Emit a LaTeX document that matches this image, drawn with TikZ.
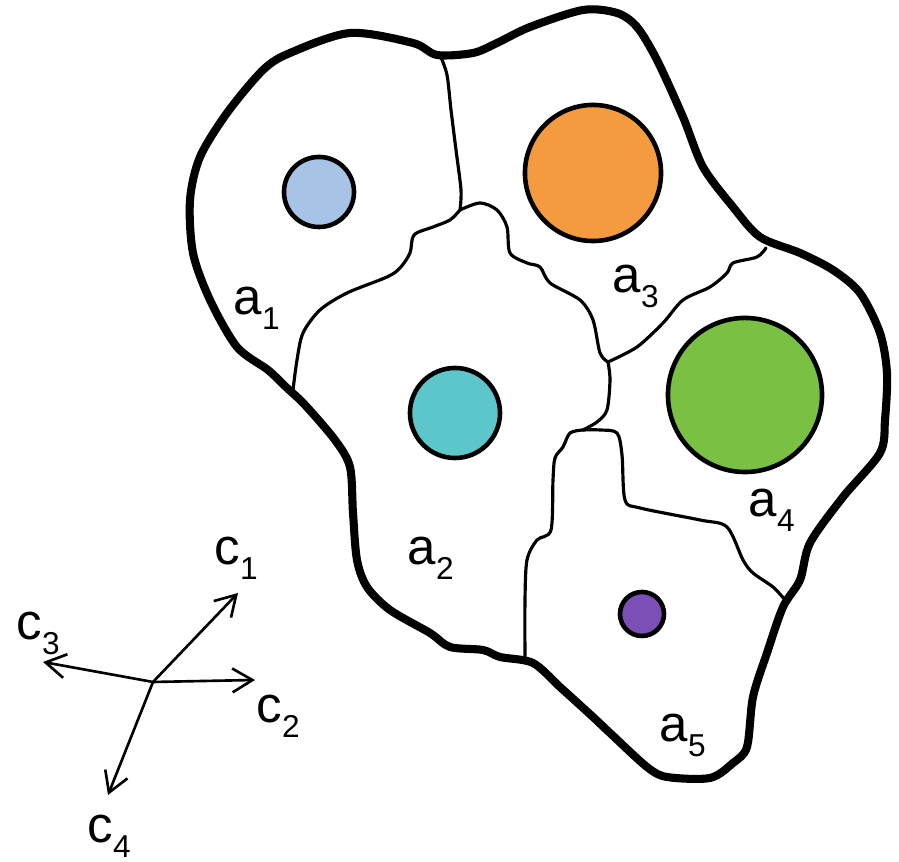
\documentclass[tikz,border=0pt]{standalone}
\usepackage{fontspec}
\setmainfont{Liberation Sans}
\usetikzlibrary{arrows.meta}

% region label: letter with a lowered small index
\newcommand{\reglab}[2]{#1\raisebox{-4pt}{\fontsize{9}{9}\selectfont #2}}

\tikzset{
  outline/.style={line width=2.3pt, line join=round},
  border/.style={line width=0.9pt, line join=round, line cap=round},
  blob/.style={circle, draw=black, line width=1.3pt, inner sep=0pt},
  lbl/.style={anchor=base west, inner sep=0pt, font=\fontsize{14.5}{14.5}\selectfont},
  axis/.style={line width=0.75pt, -{Straight Barb[length=5.7pt,width=6.8pt]}}
}

\definecolor{cblue}{HTML}{A7C3E6}
\definecolor{corange}{HTML}{F59B3F}
\definecolor{ccyan}{HTML}{5CC6CA}
\definecolor{cgreen}{HTML}{7AC143}
\definecolor{cpurple}{HTML}{7B4FB5}

\begin{document}
\begin{tikzpicture}[x=0.01cm, y=-0.01cm]
\useasboundingbox (0,0) rectangle (899,862);

% inner borders between the regions
\draw[border] plot[smooth, tension=0.5] coordinates {(440,55) (447,75) (451,110) (456,150) (461,190) (460,210)};
\draw[border] plot[smooth, tension=0.5] coordinates {(460,210) (450,220) (433,227) (414,235) (410,253) (400,268) (387,277) (347,293) (320,310) (303,333) (297,360) (293,390)};
\draw[border] plot[smooth, tension=0.5] coordinates {(460,210) (480,203) (497,210) (507,227) (510,253) (527,263) (540,267) (550,283) (580,300) (593,320) (600,353) (608,362)};
\draw[border] plot[smooth, tension=0.5] coordinates {(608,362) (637,347) (663,323) (683,300) (710,287) (727,273) (733,263) (757,257) (766,248)};
\draw[border] plot[smooth, tension=0.5] coordinates {(608,362) (610,380) (607,410) (597,422) (583,430)};
\draw[border] plot[smooth, tension=0.5] coordinates {(583,430) (600,430) (617,433) (622,455) (625,500) (640,508) (700,520) (727,527) (743,560) (753,573) (773,587) (785,600)};
\draw[border] plot[smooth, tension=0.5] coordinates {(583,430) (570,433) (563,447) (555,458) (553,480) (551,530) (537,540) (527,560) (525,600) (525,660)};

% outer boundary
\draw[outline] plot[smooth cycle, tension=0.5] coordinates {
  (350,33) (413,43) (437,55) (473,53) (497,43) (530,27) (583,10) (617,13)
  (637,27) (657,60) (683,117) (703,167) (733,207) (760,237) (800,253)
  (833,270) (860,293) (880,333) (887,373) (885,420) (880,453) (843,497)
  (810,543) (800,580) (783,607) (767,653) (753,697) (747,747) (733,763)
  (710,778) (667,777) (647,767) (610,733) (593,717) (560,687) (533,663)
  (500,657) (483,650) (450,647) (430,633) (390,610) (367,587) (357,560)
  (353,513) (350,467) (335,440) (305,405) (287,388) (268,370) (237,347)
  (210,300) (193,253) (190,200) (200,157) (227,113) (263,70) (290,53)};

% coloured discs
\node[blob, fill=cblue,   minimum size=0.70cm] (d1) at (319,192) {};
\node[blob, fill=corange, minimum size=1.36cm] (d3) at (593,173) {};
\node[blob, fill=ccyan,   minimum size=0.90cm] (d2) at (455,413) {};
\node[blob, fill=cgreen,  minimum size=1.54cm] (d4) at (745,395) {};
\node[blob, fill=cpurple, minimum size=0.44cm] (d5) at (642,614) {};

% region labels
\node[lbl] (la1) at (233,315) {\reglab{a}{1}};
\node[lbl] (la2) at (407,565) {\reglab{a}{2}};
\node[lbl] (la3) at (612,293) {\reglab{a}{3}};
\node[lbl] (la4) at (748,517) {\reglab{a}{4}};
\node[lbl] (la5) at (659,742) {\reglab{a}{5}};

% direction axes
\coordinate (o) at (153,682);
\coordinate (e1) at (238,593);
\coordinate (e2) at (255,680);
\coordinate (e3) at (43,662);
\coordinate (e4) at (108,795);
\draw[axis] (o) -- (e1);
\draw[axis] (o) -- (e2);
\draw[axis] (o) -- (e3);
\draw[axis] (o) -- (e4);

\node[lbl] (lc1) at (214,565) {\reglab{c}{1}};
\node[lbl] (lc2) at (256,723) {\reglab{c}{2}};
\node[lbl] (lc3) at (16,640) {\reglab{c}{3}};
\node[lbl] (lc4) at (87,843) {\reglab{c}{4}};
\end{tikzpicture}
\end{document}
